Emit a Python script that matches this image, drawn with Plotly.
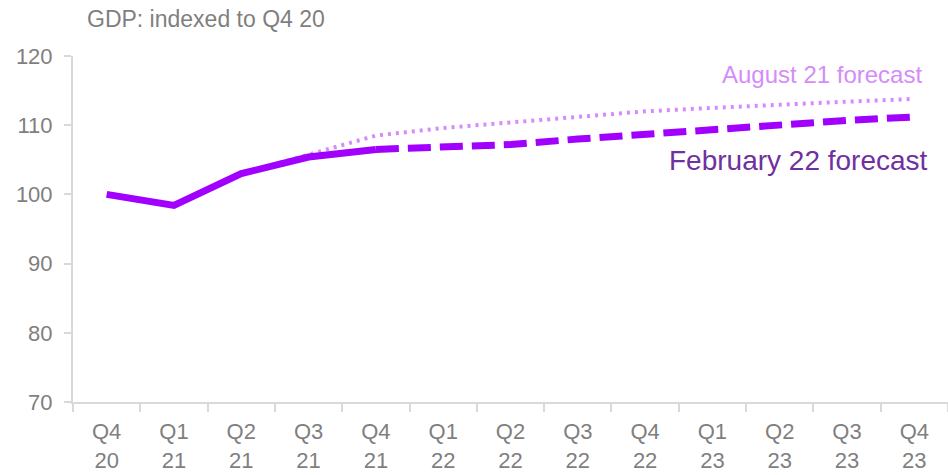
import plotly.graph_objects as go

quarters = ["Q4 20", "Q1 21", "Q2 21", "Q3 21", "Q4 21", "Q1 22", "Q2 22",
            "Q3 22", "Q4 22", "Q1 23", "Q2 23", "Q3 23", "Q4 23"]
tick_text = ["Q4<br>20", "Q1<br>21", "Q2<br>21", "Q3<br>21", "Q4<br>21", "Q1<br>22", "Q2<br>22",
             "Q3<br>22", "Q4<br>22", "Q1<br>23", "Q2<br>23", "Q3<br>23", "Q4<br>23"]

# GDP outturns, indexed to Q4 2020 = 100
actual = [100.0, 98.4, 103.0, 105.4, 106.5,
          None, None, None, None, None, None, None, None]
# February 2022 forecast (from Q4 21)
feb22 = [None, None, None, None, 106.5, 106.8, 107.2, 108.0, 108.7, 109.4, 110.1, 110.7, 111.2]
# August 2021 forecast (from Q2 21)
aug21 = [None, None, 103.0, 105.8, 108.5, 109.6, 110.4, 111.3, 112.0, 112.5, 113.0, 113.4, 113.8]

PURPLE = "#A100FF"
LIGHT_PURPLE = "#D58CF8"
DARK_PURPLE = "#7030A0"
GREY = "#7F7F7F"
AXIS = "#D9D9D9"

fig = go.Figure()
fig.add_trace(go.Scatter(x=quarters, y=aug21, mode="lines",
                         line=dict(color=LIGHT_PURPLE, width=4, dash="3px,5px"),
                         hoverinfo="skip", connectgaps=False))
fig.add_trace(go.Scatter(x=quarters, y=feb22, mode="lines",
                         line=dict(color=PURPLE, width=7, dash="23px,9px"),
                         hoverinfo="skip"))
fig.add_trace(go.Scatter(x=quarters, y=actual, mode="lines",
                         line=dict(color=PURPLE, width=7),
                         hoverinfo="skip"))

fig.update_layout(
    width=948, height=475,
    margin=dict(l=73, r=0, t=56, b=73),
    paper_bgcolor="white", plot_bgcolor="white",
    showlegend=False,
    font=dict(family="Liberation Sans, Arial, sans-serif", color=GREY, size=22),
    xaxis=dict(
        type="category", categoryorder="array", categoryarray=quarters,
        tickvals=quarters, ticktext=tick_text,
        range=[-0.5, 12.5], tickson="boundaries",
        ticks="outside", ticklen=8, tickcolor=AXIS, tickwidth=2,
        ticklabelstandoff=9,
        showline=True, linecolor=AXIS, linewidth=2,
        showgrid=False, zeroline=False,
        tickfont=dict(size=22, color=GREY),
    ),
    yaxis=dict(
        range=[70, 120], tickvals=[70, 80, 90, 100, 110, 120],
        ticks="outside", ticklen=7, tickcolor=AXIS, tickwidth=2,
        ticklabelstandoff=7,
        showline=True, linecolor=AXIS, linewidth=2,
        showgrid=False, zeroline=False,
        tickfont=dict(size=22, color=GREY),
    ),
    annotations=[
        dict(text="GDP: indexed to Q4 20", xref="paper", yref="paper",
             x=0.0, y=1.0, xshift=12, yshift=22, xanchor="left", yanchor="bottom",
             showarrow=False, font=dict(size=23, color=GREY)),
        dict(text="August 21 forecast", xref="paper", yref="y",
             x=0.972, y=117.3, xanchor="right", yanchor="middle",
             showarrow=False, font=dict(size=24, color=LIGHT_PURPLE)),
        dict(text="February 22 forecast", xref="paper", yref="y",
             x=0.979, y=104.9, xanchor="right", yanchor="middle",
             showarrow=False, font=dict(size=28, color=DARK_PURPLE)),
    ],
)

fig.write_html("out.html")
